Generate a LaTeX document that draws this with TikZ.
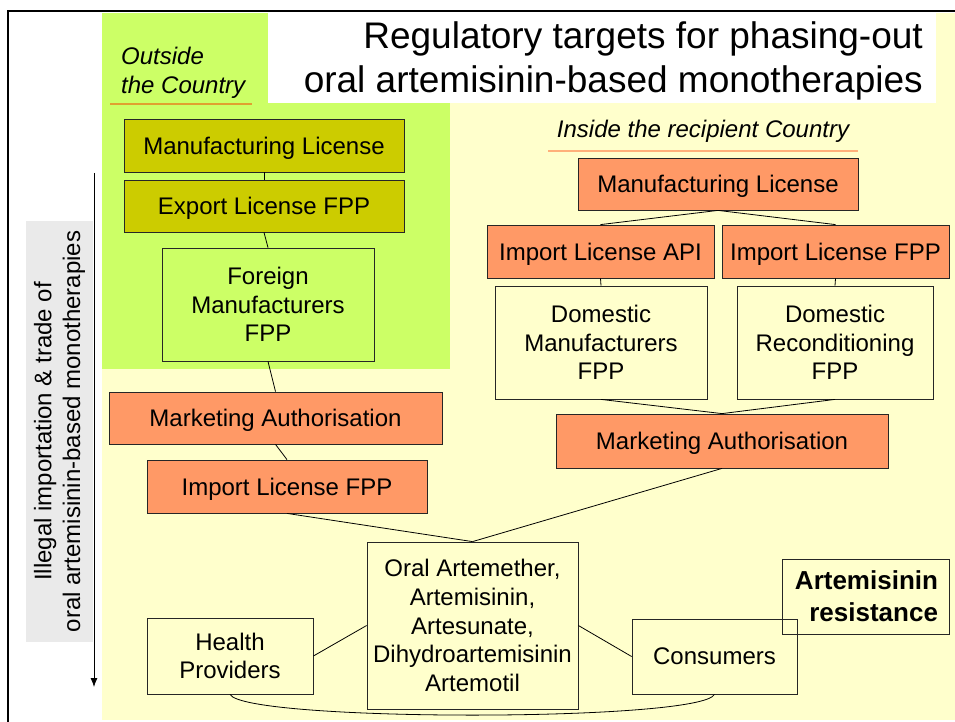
\documentclass[tikz,border=0pt]{standalone}
\usepackage{fontspec}
\setmainfont{Liberation Sans}
\usetikzlibrary{arrows.meta}
\definecolor{bgyellow}{HTML}{FFFFCC}
\definecolor{bggreen}{HTML}{CCFF66}
\definecolor{boxolive}{HTML}{CCCC00}
\definecolor{boxorange}{HTML}{FF9966}
\definecolor{bggrey}{HTML}{EAEAEA}
\definecolor{rulegold}{HTML}{E0A030}
\definecolor{rulepeach}{HTML}{FFB07A}
\begin{document}
\begin{tikzpicture}[x=1pt,y=-1pt,
  box/.style={draw=black!85, line width=0.8pt, inner sep=0pt, align=center,
    font=\fontsize{24}{28.8}\selectfont},
  olivebox/.style={box, fill=boxolive, text depth=0pt, minimum width=280pt, minimum height=53pt},
  orangebox/.style={box, fill=boxorange, text depth=0pt, minimum height=53pt},
  plainbox/.style={box}]
  \useasboundingbox (0,0) rectangle (955,722);
  % background areas
  \fill[bgyellow](102,13) rectangle (955,720);
  \fill[bggreen](102,13) rectangle (450,369);
  \fill[white](268,13) rectangle (936,103);
  \draw[line width=2.5pt](8,722)--(8,11)--(955,11);
  % headings
  \node[anchor=north east, inner sep=0pt, align=right,
    font=\fontsize{37}{44.4}\selectfont] (title) at (923,21)
    {Regulatory targets for phasing-out\\oral artemisinin-based monotherapies};
  \node[anchor=north west, inner sep=0pt, align=left,
    font=\itshape\fontsize{24}{28.8}\selectfont] (outside) at (121,47) {Outside\\the Country};
  \draw[rulegold, line width=1.5pt](110,104)--(252,104);
  \node[anchor=base, inner sep=0pt, font=\itshape\fontsize{24}{28.8}\selectfont]
    (inside) at (703,138) {Inside the recipient Country};
  \draw[rulepeach, line width=1.5pt](548,151)--(858,151);
  % side note
  \node[rotate=90, fill=bggrey, inner sep=0pt, minimum width=421pt, minimum height=67pt,
    align=center, font=\fontsize{24}{28.8}\selectfont] (illegal) at (59.5,431.5)
    {Illegal importation \& trade of\\oral artemisinin-based monotherapies};
  \coordinate (arrtop) at (94,173);
  \coordinate (arrbot) at (94,687);
  \draw[line width=0.8pt, -{Latex[length=9pt,width=7pt]}](arrtop)--(arrbot);
  % outside the country
  \node[olivebox] (mlo) at (264,145.5) {Manufacturing License};
  \node[olivebox, minimum height=52pt] (elo) at (264,206) {Export License FPP};
  \node[plainbox, fill=bggreen, minimum width=212pt, minimum height=113pt] (fmf) at (268,304.5)
    {Foreign\\Manufacturers\\FPP};
  % recipient country
  \node[orangebox, minimum width=333pt, minimum height=52pt] (mal) at (275.5,418) {Marketing Authorisation};
  \node[orangebox, minimum width=280pt] (ilf) at (287,486.5) {Import License FPP};
  \node[orangebox, minimum width=280pt, minimum height=52pt] (mli) at (718,184) {Manufacturing License};
  \node[orangebox, minimum width=227pt] (ila) at (600.5,251.5) {Import License API};
  \node[orangebox, minimum width=227pt] (ilr) at (835.5,251.5) {Import License FPP};
  \node[plainbox, minimum width=212pt, minimum height=113pt] (dmf) at (601,342.5)
    {Domestic\\Manufacturers\\FPP};
  \node[plainbox, minimum width=196pt, minimum height=113pt] (drf) at (835,342.5)
    {Domestic\\Reconditioning\\FPP};
  \node[orangebox, minimum width=332pt, minimum height=54pt] (mar) at (722,441) {Marketing Authorisation};
  % products and users
  \node[plainbox, minimum width=211pt, minimum height=167pt] (oral) at (472.5,625.5)
    {Oral Artemether,\\Artemisinin,\\Artesunate,\\Dihydroartemisinin\\Artemotil};
  \node[plainbox, minimum width=166pt, minimum height=76pt] (hp) at (230,656) {Health\\Providers};
  \node[plainbox, minimum width=165pt, minimum height=75pt] (con) at (714.5,656.5) {Consumers};
  \node[plainbox, inner xsep=11pt, text width=145pt, minimum height=75pt, align=right,
    font=\bfseries\fontsize{26}{32}\selectfont] (res) at (865.5,596.5) {Artemisinin\\resistance};
  % links
  \draw[line width=0.8pt](mlo)--(elo);
  \draw[line width=0.8pt](elo.south)--(fmf.north);
  \draw[line width=0.8pt](fmf.south)--(mal.north);
  \draw[line width=0.8pt](mal.south)--(ilf.north);
  \draw[line width=0.8pt](ilf.south)--(oral.north);
  \draw[line width=0.8pt](mli.south)--(ila.north);
  \draw[line width=0.8pt](mli.south)--(ilr.north);
  \draw[line width=0.8pt](ila.south)--(dmf.north);
  \draw[line width=0.8pt](ilr.south)--(drf.north);
  \draw[line width=0.8pt](dmf.south)--(mar.north);
  \draw[line width=0.8pt](drf.south)--(mar.north);
  \draw[line width=0.8pt](mar.south)--(oral.north);
  \draw[line width=0.8pt](hp.east)--(oral.west);
  \draw[line width=0.8pt](oral.east)--(con.west);
  \draw[line width=0.8pt](hp.south) .. controls (245,722) and (700,722) .. (con.south);
\end{tikzpicture}
\end{document}
